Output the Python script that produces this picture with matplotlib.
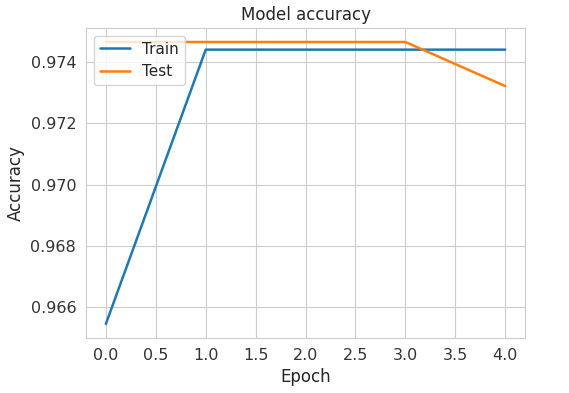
import matplotlib
matplotlib.use("Agg")
import matplotlib.pyplot as plt
import seaborn as sns

sns.set_style("whitegrid")
plt.rcParams['font.family'] = ['DejaVu Sans']

epochs = [0, 1, 2, 3, 4]
train_acc = [0.96545, 0.97441, 0.97441, 0.97441, 0.97441]
test_acc = [0.97466, 0.97466, 0.97466, 0.97466, 0.97322]

fig = plt.figure(figsize=(5.69, 3.93), dpi=100)
ax = fig.add_axes([0.151, 0.140, 0.772, 0.789])
ax.plot(epochs, train_acc, label="Train", color="#1f77b4", lw=1.8)
ax.plot(epochs, test_acc, label="Test", color="#ff7f0e", lw=1.8)
ax.set_title("Model accuracy", fontsize=12)
ax.set_xlabel("Epoch", fontsize=12)
ax.set_ylabel("Accuracy", fontsize=12)
ax.tick_params(labelsize=11.5, colors="#333333")
ax.legend(loc="upper left", fontsize=11)
fig.savefig("out.png", dpi=100)
